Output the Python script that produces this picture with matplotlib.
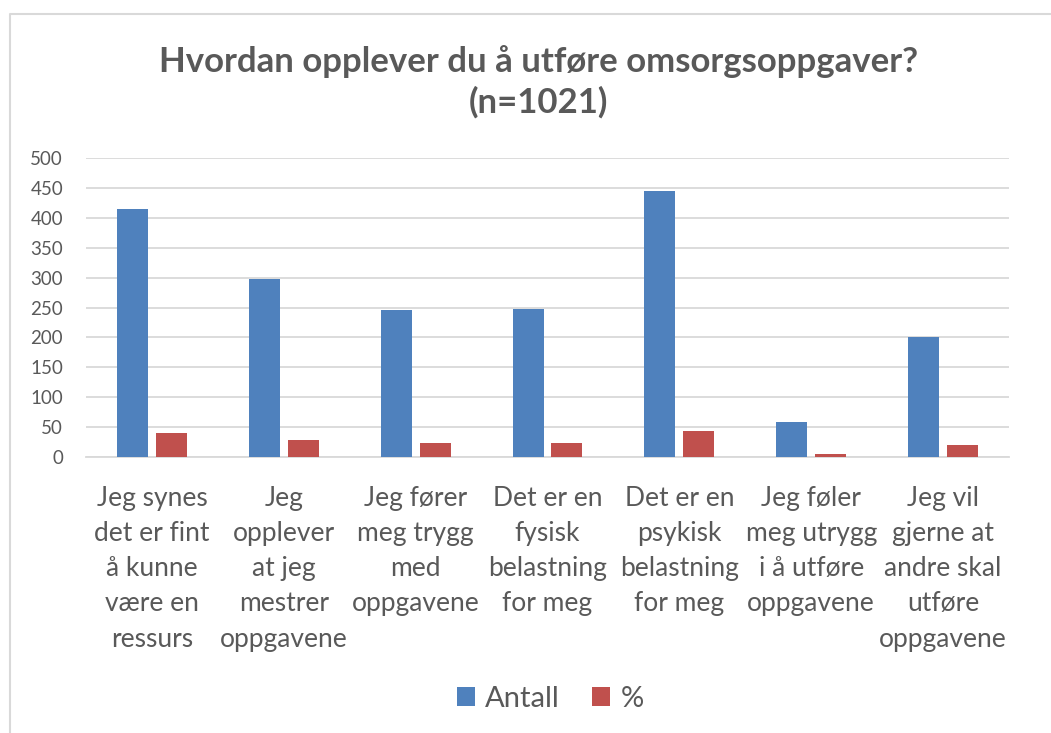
import numpy as np
import matplotlib.pyplot as plt
from matplotlib.lines import Line2D

categories = ['Jeg synes\ndet er fint\nå kunne\nvære en\nressurs',
              'Jeg\nopplever\nat jeg\nmestrer\noppgavene',
              'Jeg fører\nmeg trygg\nmed\noppgavene',
              'Det er en\nfysisk\nbelastning\nfor meg',
              'Det er en\npsykisk\nbelastning\nfor meg',
              'Jeg føler\nmeg utrygg\ni å utføre\noppgavene',
              'Jeg vil\ngjerne at\nandre skal\nutføre\noppgavene']
antall = [415, 297, 245, 248, 445, 59, 201]
prosent = [40.6, 29.1, 24.0, 24.3, 43.6, 5.8, 19.7]

blue = '#4F81BD'
red = '#C0504D'
txt = '#595959'

plt.rcParams['font.family'] = ['Lato', 'DejaVu Sans']

fig = plt.figure(figsize=(10.51, 7.33), dpi=100)
# chart frame: only left and top edges are visible in the crop
bx, by = 10 / 1051, 1 - 14 / 733
fig.lines.append(Line2D([bx, bx, 1.0], [0.0, by, by], transform=fig.transFigure,
                        color='#D9D9D9', linewidth=1.5))
ax = fig.add_axes([86 / 1051, 1 - 457.3 / 733, 923 / 1051, 299.6 / 733])

x = np.arange(len(categories))
w = 0.235
off = w / 2 + 0.03
ax.bar(x - off, antall, w, color=blue, label='Antall', zorder=3)
ax.bar(x + off, prosent, w, color=red, label='%', zorder=3)

ax.set_xlim(-0.5, len(categories) - 0.5)
ax.set_ylim(0, 500)
ax.set_yticks(range(0, 501, 50))
ax.yaxis.grid(True, color='#D9D9D9', linewidth=1.3, zorder=0)
for s in ['top', 'right', 'left']:
    ax.spines[s].set_visible(False)
ax.spines['bottom'].set_color('#D9D9D9')
ax.spines['bottom'].set_linewidth(1.3)
ax.tick_params(axis='y', length=0, pad=16.5, labelsize=13.5, labelcolor=txt)
ax.tick_params(axis='x', length=0, pad=20.5, labelsize=19, labelcolor=txt)
ax.set_xticks(x)
ax.set_xticklabels(categories, linespacing=1.51)

fig.text(0.512, 1 - 82 / 733, 'Hvordan opplever du å utføre omsorgsoppgaver?\n(n=1021)',
         ha='center', va='center', fontsize=25, fontweight='bold', color=txt,
         linespacing=1.32)

leg = ax.legend(loc='center', bbox_to_anchor=(0.5235, 1 - 699 / 733), bbox_transform=fig.transFigure,
                ncol=2, frameon=False, fontsize=21, handlelength=0.62, handleheight=0.62,
                handletextpad=0.35, columnspacing=1.1)
for t in leg.get_texts():
    t.set_color(txt)

fig.savefig('out.png', dpi=100)
